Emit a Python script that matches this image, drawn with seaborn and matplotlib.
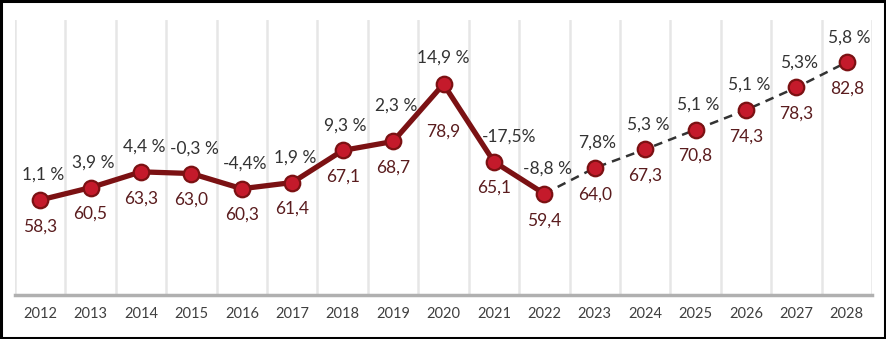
import matplotlib
matplotlib.use("Agg")
import matplotlib.pyplot as plt
import seaborn as sns
import pandas as pd
from matplotlib.patches import Rectangle

years = [2012, 2013, 2014, 2015, 2016, 2017, 2018, 2019, 2020, 2021, 2022,
         2023, 2024, 2025, 2026, 2027, 2028]
values = [58.3, 60.5, 63.3, 63.0, 60.3, 61.4, 67.1, 68.7, 78.9, 65.1, 59.4,
          64.0, 67.3, 70.8, 74.3, 78.3, 82.8]
growth = ["1,1 %", "3,9 %", "4,4 %", "-0,3 %", "-4,4%", "1,9 %", "9,3 %", "2,3 %",
          "14,9 %", "-17,5%", "-8,8 %", "7,8%", "5,3 %", "5,1 %", "5,1 %", "5,3%", "5,8 %"]
value_labels = ["58,3", "60,5", "63,3", "63,0", "60,3", "61,4", "67,1", "68,7", "78,9",
                "65,1", "59,4", "64,0", "67,3", "70,8", "74,3", "78,3", "82,8"]
last_actual = 2022

df = pd.DataFrame({"year": years, "value": values})
actual = df[df.year <= last_actual]
forecast = df[df.year >= last_actual]

sns.set_theme(style="white")
plt.rcParams["font.family"] = ["Lato", "DejaVu Sans"]

fig = plt.figure(figsize=(8.87, 3.39), dpi=100)
ax = fig.add_axes([15 / 887, 1 - 295 / 339, 857 / 887, 275 / 339])

# vertical separators between categories
for b in range(len(years) + 1):
    ax.axvline(years[0] - 0.5 + b, color="#e6e6e6", lw=1.8, zorder=0)

sns.lineplot(data=actual, x="year", y="value", ax=ax, color="#7b1113",
             lw=3.8, zorder=2, legend=False)
sns.lineplot(data=forecast, x="year", y="value", ax=ax, color="#333333",
             lw=1.8, zorder=2, legend=False, linestyle=(0, (3.5, 2.5)))
sns.scatterplot(data=df, x="year", y="value", ax=ax, s=125, color="#c41a2b",
                edgecolor="#7b1113", linewidth=1.6, zorder=3, legend=False)

# label offsets in points (dx, dy)
up_off = {2019: (2, 26), 2020: (0, 19), 2021: (11, 18)}
down_off = {2020: (0, -34)}
for i, (x, y) in enumerate(zip(years, values)):
    dx, dy = up_off.get(x, (2, 18))
    ax.annotate(growth[i], (x, y), xytext=(dx, dy), textcoords="offset points",
                ha="center", va="center", fontsize=12.5, color="#333333", zorder=4)
    dx2, dy2 = down_off.get(x, (0, -19))
    ax.annotate(value_labels[i], (x, y), xytext=(dx2, dy2), textcoords="offset points",
                ha="center", va="center", fontsize=12.5, color="#5a1c1e", zorder=4)

ax.set_xlim(years[0] - 0.5, years[-1] + 0.5)
ax.set_ylim(41.4, 90.3)
ax.set_xticks(years)
ax.set_xticklabels([str(y) for y in years], fontsize=10.5, color="#3f3f3f")
ax.set_yticks([])
ax.set_xlabel("")
ax.set_ylabel("")
for s in ["top", "left", "right"]:
    ax.spines[s].set_visible(False)
ax.spines["bottom"].set_color("#b0b0b0")
ax.spines["bottom"].set_linewidth(2.5)
ax.tick_params(axis="x", length=0, pad=9)

fig.patches.append(Rectangle((0.001, 0.002), 0.997, 0.995, transform=fig.transFigure,
                             fill=False, edgecolor="black", lw=2.2))

fig.savefig("out.png", dpi=100)
